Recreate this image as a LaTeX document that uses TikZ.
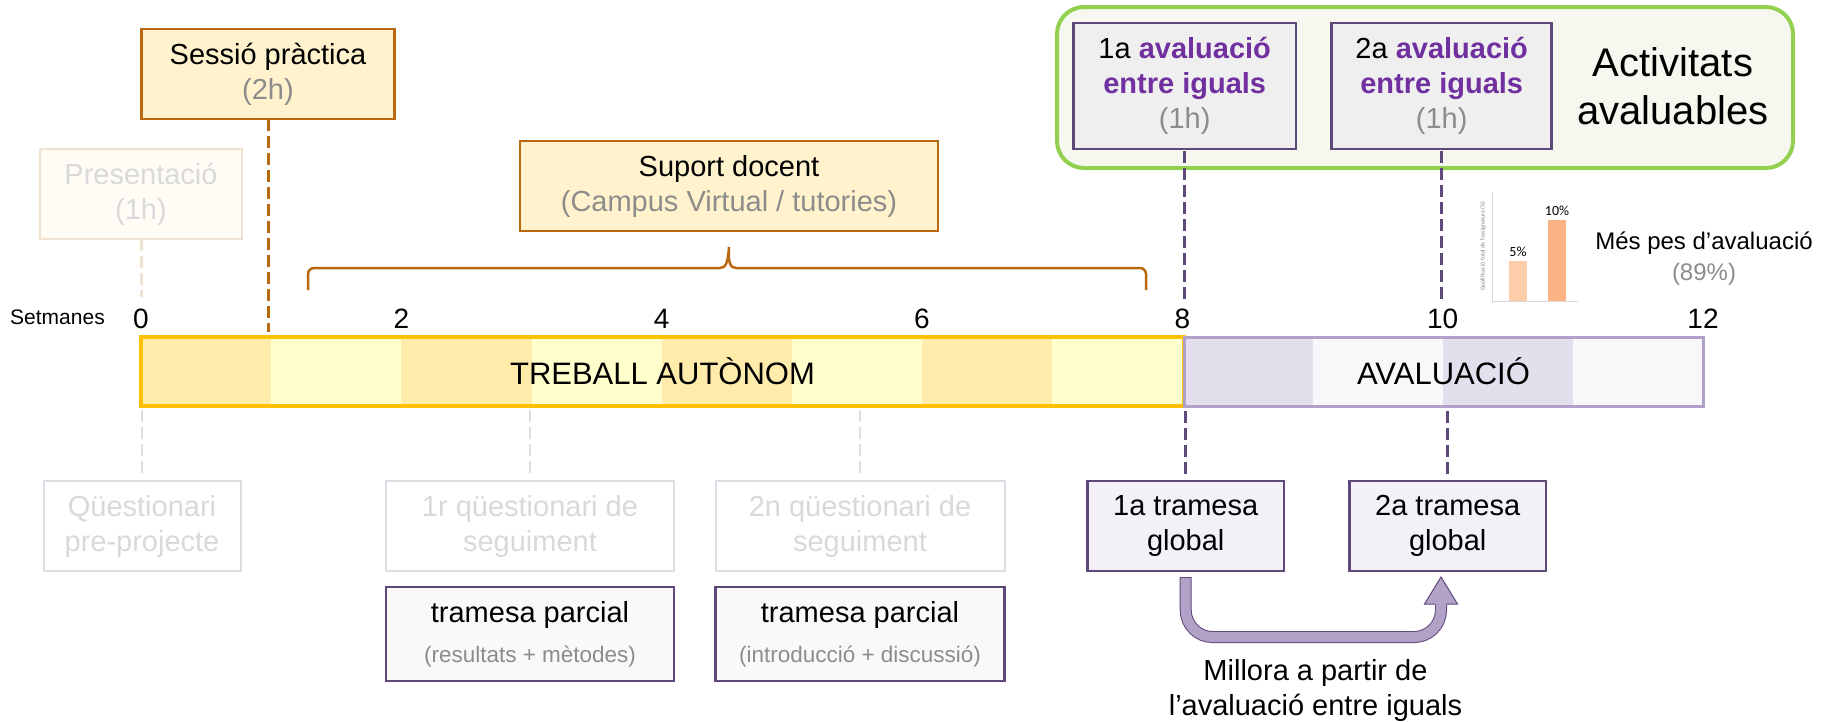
\documentclass[tikz,border=0pt]{standalone}
\usepackage{fontspec}
\setmainfont{Liberation Sans}
\newfontfamily\chartfont{Carlito}
\usetikzlibrary{calc}

\definecolor{goldline}{HTML}{FFC000}
\definecolor{ydark}{HTML}{FFEBAA}
\definecolor{ylight}{HTML}{FFFFCC}
\definecolor{pdark}{HTML}{E4DFEC}
\definecolor{plight}{HTML}{F8F7FA}
\definecolor{pbar}{HTML}{B1A0C7}
\definecolor{plum}{HTML}{5F497A}
\definecolor{evalpurple}{HTML}{7030A0}
\definecolor{brownline}{HTML}{B8690F}
\definecolor{creamfill}{HTML}{FFF2CC}
\definecolor{leaf}{HTML}{92D050}
\definecolor{leaffill}{HTML}{F6F7EF}
\definecolor{txtgray}{HTML}{8C8C8C}
\definecolor{fadetxt}{HTML}{D9D9D9}
\definecolor{fadeline}{HTML}{E0DCE6}
\definecolor{tanline}{HTML}{EFE2D0}
\definecolor{tanfill}{HTML}{FFFCF5}
\definecolor{evalfill}{HTML}{EFEFEF}
\definecolor{sendfill}{HTML}{F3F1F7}
\definecolor{partfill}{HTML}{F9F8FB}
\definecolor{arrowfill}{HTML}{B3A2C7}
\definecolor{peach}{HTML}{FDCCA8}
\definecolor{salmon}{HTML}{FBB385}
\definecolor{axisgray}{HTML}{D9D9D9}

\begin{document}
\begin{tikzpicture}[x=1pt,y=-1pt,
  txt/.style={align=center,inner sep=0pt,outer sep=0pt,font=\fontsize{29}{35}\selectfont},
  cream/.style={txt,draw=brownline,fill=creamfill,line width=2.5pt},
  faded/.style={txt,draw=fadeline,fill=white,line width=2pt,text=fadetxt,minimum height=90pt},
  send/.style={txt,draw=plum,line width=2.5pt},
  eval/.style={txt,draw=plum,fill=evalfill,line width=2.5pt,minimum height=126pt},
  dashline/.style={line width=3pt,dash pattern=on 12pt off 5pt},
  tick/.style={anchor=base,inner sep=0pt,outer sep=0pt,font=\fontsize{28}{34}\selectfont},
  barnode/.style={inner sep=0pt,outer sep=0pt,minimum height=69pt,font=\fontsize{31}{37}\selectfont},
  brace/.style={draw=brownline,line width=2.5pt}
]
\useasboundingbox (0,0) rectangle (1829,723);

% setmanes
\foreach \w in {0,2,4,6} \fill[ydark] ({141+130.17*\w},337) rectangle ++(130.17,69);
\foreach \w in {1,3,5,7} \fill[ylight] ({141+130.17*\w},337) rectangle ++(130.17,69);
\foreach \w in {8,10} \fill[pdark] ({141+130.17*\w},337) rectangle ++(130.17,69);
\foreach \w in {9,11} \fill[plight] ({141+130.17*\w},337) rectangle ++(130.17,69);
\node[barnode,draw=goldline,line width=3.5pt,minimum width=1043pt] (treball) at (662.5,371.5) {TREBALL AUTÒNOM};
\node[barnode,draw=pbar,line width=3pt,minimum width=519pt] (aval) at (1443.5,371.5) {AVALUACIÓ};
\foreach \w in {0,2,...,12} \node[tick] (t\w) at ({141+130.17*\w},328) {\w};
\node[anchor=base,inner sep=0pt,font=\fontsize{21}{25}\selectfont] (setm) at (57.5,324) {Setmanes};

% docencia
\node[cream,minimum width=252.6pt,minimum height=90pt] (sp) at (268,74) {Sessió pràctica\\\textcolor{txtgray}{(2h)}};
\node[txt,draw=tanline,fill=tanfill,line width=2pt,text=fadetxt,minimum width=202pt,minimum height=90pt] (pres) at (141,194) {Presentació\\(1h)};
\node[cream,minimum width=417.7pt,minimum height=89.7pt] (sd) at (729,186) {Suport docent\\\textcolor{txtgray}{(Campus Virtual / tutories)}};
\draw[dashline,brownline,shorten >=5pt] (sp.south) -- (sp.south |- treball.north);
\draw[dashline,tanline,shorten >=11pt] (pres.south) -- (pres.south |- t0.north);
\draw[brace,rounded corners=6pt] (308,290) |- (720,268);
\draw[brace] (720,268) .. controls (726,268) and (728,262) .. (sd.south |- 0,247) .. controls (728,262) and (730,268) .. (736,268);
\draw[brace,rounded corners=6pt] (736,268) -| (1146,290);

% activitats avaluables
\node[draw=leaf,fill=leaffill,line width=4pt,rounded corners=27pt,minimum width=736pt,minimum height=161pt] (act) at (1425,87.5) {};
\node[eval,minimum width=222.7pt] (av1) at (1184.7,85.9) {1a \textcolor{evalpurple}{\textbf{avaluació}}\\\textcolor{evalpurple}{\textbf{entre iguals}}\\\textcolor{txtgray}{(1h)}};
\node[eval,minimum width=220pt] (av2) at (1441.7,85.9) {2a \textcolor{evalpurple}{\textbf{avaluació}}\\\textcolor{evalpurple}{\textbf{entre iguals}}\\\textcolor{txtgray}{(1h)}};
\node[txt,font=\fontsize{40}{48}\selectfont] (actlbl) at (1673,86.3) {Activitats\\avaluables};
\draw[dashline,plum,shorten <=2pt,shorten >=6pt] (av1.south) -- (av1.south |- t8.north);
\draw[dashline,plum,shorten <=2pt,shorten >=6pt] (av2.south) -- (av2.south |- t10.north);

% pes
\fill[peach] (1509,260.7) rectangle (1527,301);
\fill[salmon] (1548,220) rectangle (1566,301);
\draw[axisgray,line width=1pt] (1492.7,191.7) -- (1492.7,301) -- (1578,301);
\node[anchor=base,inner sep=0pt,font=\chartfont\fontsize{14}{16}\selectfont] (p5) at (1518,256) {5\%};
\node[anchor=base,inner sep=0pt,font=\chartfont\fontsize{14}{16}\selectfont] (p10) at (1557,215.7) {10\%};
\node[rotate=90,inner sep=0pt,text=gray,font=\chartfont\fontsize{6}{7}\selectfont] (yl) at (1483,246) {Qualificació total de l’assignatura (\%)};
\node[txt,font=\fontsize{24}{31}\selectfont] (pes) at (1704,259) {Més pes d’avaluació\\\textcolor{txtgray}{(89\%)}};

% questionaris i trameses
\node[faded,minimum width=197pt] (q0) at (142,526) {Qüestionari\\pre-projecte};
\node[faded,minimum width=288pt] (q1) at (530,526) {1r qüestionari de\\seguiment};
\node[faded,minimum width=289pt] (q2) at (860,526) {2n qüestionari de\\seguiment};
\foreach \q in {q0,q1,q2}
  \draw[dashline,fadeline,line width=2.5pt,shorten <=4pt,shorten >=6pt] (\q.north |- treball.south) -- (\q.north);
\node[send,fill=partfill,minimum width=288pt,minimum height=94.3pt] (tp1) at (530,633.9) {tramesa parcial\\[5pt]{\fontsize{22.5}{27}\selectfont\color{txtgray}(resultats + mètodes)}};
\node[send,fill=partfill,minimum width=289pt,minimum height=94.3pt] (tp2) at (860,633.9) {tramesa parcial\\[5pt]{\fontsize{22.5}{27}\selectfont\color{txtgray}(introducció + discussió)}};
\node[send,fill=sendfill,minimum width=196.7pt,minimum height=90.3pt] (tg1) at (1185.7,525.9) {1a tramesa\\global};
\node[send,fill=sendfill,minimum width=196.7pt,minimum height=90.3pt] (tg2) at (1447.7,525.9) {2a tramesa\\global};
\draw[dashline,plum,shorten <=5pt,shorten >=3pt] (tg1.north |- aval.south) -- (tg1.north);
\draw[dashline,plum,shorten <=5pt,shorten >=3pt] (tg2.north |- aval.south) -- (tg2.north);

% millora
\coordinate (ua) at ([yshift=-6pt]tg1.south);
\coordinate (hb) at (1441,604);
\coordinate (tip) at (1441,577);
\draw[plum,line width=12pt,rounded corners=27pt] (ua) -- ++(0,60) -| (hb);
\draw[arrowfill,line width=10pt,rounded corners=27pt] ([yshift=-1pt]ua) -- ++(0,59) -| (hb);
\fill[arrowfill] (1424.5,604) -- (tip) -- (1457.5,604) -- cycle;
\draw[plum,line width=1pt] (1435,604) -- (1424.5,604) -- (tip) -- (1457.5,604) -- (1447,604);
\node[txt] (mill) at (1315.5,690) {Millora a partir de\\l’avaluació entre iguals};
\end{tikzpicture}
\end{document}
